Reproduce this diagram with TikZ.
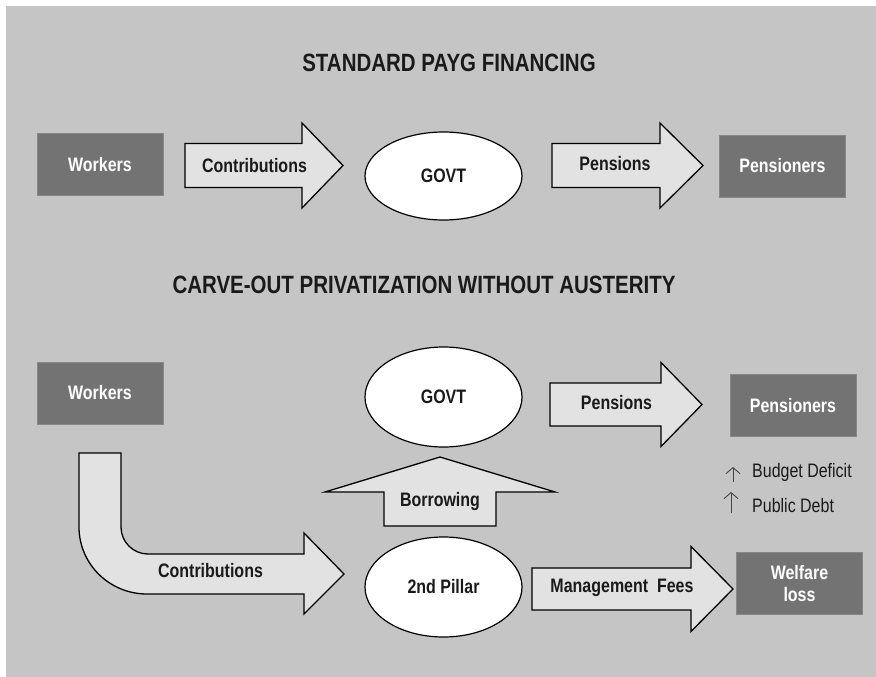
\documentclass[tikz,border=0pt]{standalone}
\usepackage{fontspec}
\setmainfont{Liberation Sans}[FakeStretch=0.82]
\usetikzlibrary{shapes.geometric,arrows.meta}

\definecolor{panel}{RGB}{196,197,196}
\definecolor{boxgrey}{RGB}{115,115,115}
\definecolor{boxedge}{RGB}{135,135,135}
\definecolor{arrowfill}{RGB}{226,226,226}
\definecolor{ink}{RGB}{26,26,26}
\definecolor{notegrey}{RGB}{70,70,70}

% horizontal block arrow: x-start, head start, tip, centre y, body half-height, head half-height
\newcommand{\hblockarrow}[6]{%
  \draw[blockarrow] (#1,#4-#5) -- (#2,#4-#5) -- (#2,#4-#6) -- (#3,#4)
    -- (#2,#4+#6) -- (#2,#4+#5) -- (#1,#4+#5) -- cycle;}

\begin{document}
\begin{tikzpicture}[x=1pt,y=-1pt,
  lbl/.style={font=\fontsize{19.5}{21}\selectfont\bfseries, text=ink, inner sep=0pt},
  headline/.style={font=\fontsize{25}{28}\selectfont\bfseries, text=ink, inner sep=0pt},
  darkbox/.style={rectangle, fill=boxgrey, draw=boxedge, line width=0.6pt,
    text=white, font=\fontsize{19.5}{21}\selectfont\bfseries, align=center,
    minimum width=126pt, minimum height=62pt, inner sep=0pt},
  oval/.style={ellipse, draw=black, line width=1.2pt, fill=white,
    minimum width=157pt, inner sep=0pt, text=ink,
    font=\fontsize{19.5}{21}\selectfont\bfseries},
  blockarrow/.style={draw=black, line width=1.3pt, fill=arrowfill, line join=miter},
  note/.style={font=\fontsize{19.5}{21}\selectfont, text=ink, anchor=west, inner sep=0pt},
  uparrow/.style={draw=notegrey, line width=0.9pt, -{Straight Barb[length=6pt,width=14pt]}}
]
\useasboundingbox (0,0) rectangle (876,677);
\fill[panel] (6,6) rectangle (876,677);

% ---------- standard PAYG financing ----------
\node[headline] (t1) at (449,63) {STANDARD PAYG FINANCING};

\node[darkbox] (w1) at (100,164.5) {Workers};
\hblockarrow{185}{302}{343}{165.5}{22}{42.5}
\node[lbl] (c1) at (254.5,166) {Contributions};
\node[oval, minimum height=88pt] (g1) at (443.5,176) {GOVT};
\hblockarrow{552}{660}{703}{165.5}{22}{42.5}
\node[lbl] (p1) at (615,164) {Pensions};
\node[darkbox] (r1) at (782.5,166) {Pensioners};

% ---------- carve-out privatization ----------
\node[headline] (t2) at (424,285) {CARVE-OUT PRIVATIZATION WITHOUT AUSTERITY};

\node[darkbox] (w2) at (100,393) {Workers};
\node[oval, minimum height=100pt] (g2) at (443.5,397) {GOVT};
\hblockarrow{550}{661}{702}{404.5}{21.5}{42}
\node[lbl] (p2) at (616.5,403) {Pensions};
\node[darkbox] (r2) at (793,405.5) {Pensioners};

% deficit and debt notes
\coordinate (bd0) at (733,482);
\coordinate (bd1) at (733,467);
\draw[uparrow] (bd0) -- (bd1);
\node[note] (bd) at (752,472.5) {Budget Deficit};
\coordinate (pd0) at (731,513);
\coordinate (pd1) at (731,492);
\draw[uparrow] (pd0) -- (pd1);
\node[note] (pd) at (752,505.5) {Public Debt};

% borrowing from the second pillar
\draw[blockarrow] (384,526) -- (384,492) -- (325,492) -- (440,457)
  -- (555,492) -- (496,492) -- (496,526) -- cycle;
\node[lbl] (bw) at (440,501) {Borrowing};

% bent contributions arrow
\draw[blockarrow] (79,453) -- (121,453) -- (121,527)
  .. controls (121,541.9) and (133.1,554) .. (148,554)
  -- (304,554) -- (304,533) -- (344,574) -- (304,614) -- (304,594) -- (147,594)
  .. controls (109.4,594) and (79,564) .. (79,527) -- cycle;
\node[lbl] (c2) at (210.5,571) {Contributions};

\node[oval, minimum height=100pt] (sp) at (443.5,587) {2nd Pillar};
\hblockarrow{532}{691}{733}{589}{21}{42.5}
\node[lbl] (mf) at (622,588) {Management\ \ Fees};
\node[darkbox, font=\fontsize{19.5}{22}\selectfont\bfseries] (wl) at (799.5,583.5) {Welfare\\loss};
\end{tikzpicture}
\end{document}
